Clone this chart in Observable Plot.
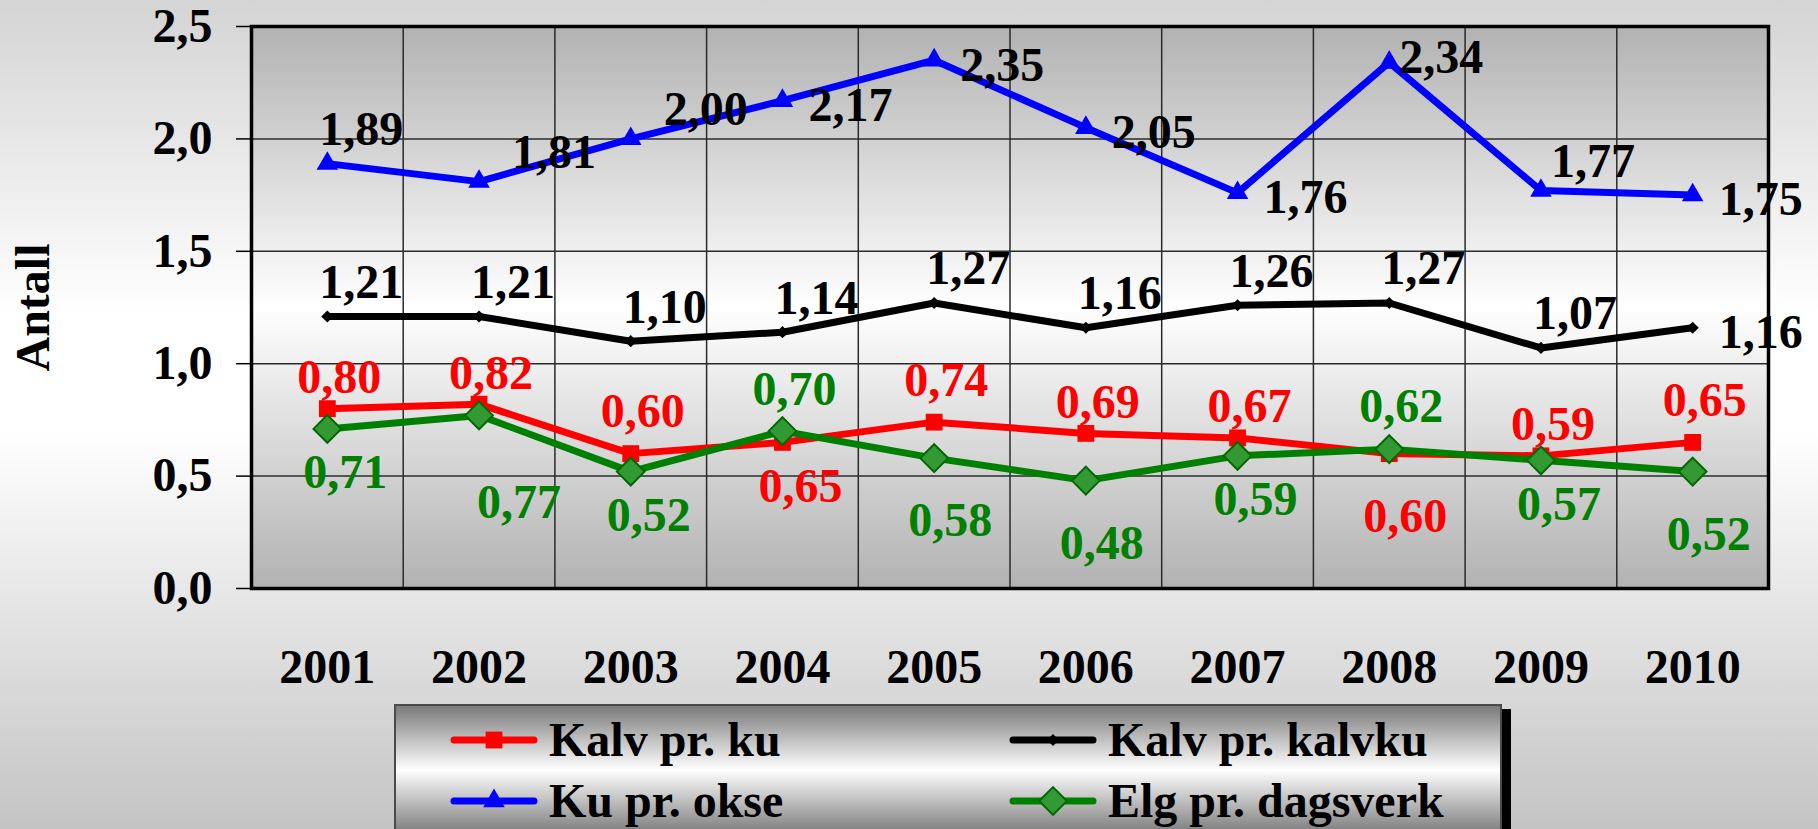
<!DOCTYPE html>
<html>
<head>
<meta charset="utf-8">
<script src="https://cdn.jsdelivr.net/npm/d3@7"></script>
<script src="https://cdn.jsdelivr.net/npm/@observablehq/plot@0.6"></script>
<style>
html, body { margin: 0; padding: 0; width: 1818px; height: 829px; overflow: hidden; }
body {
  position: relative;
  background: linear-gradient(to bottom, #d4d4d4 0%, #ffffff 38%, #ffffff 52%, #c4c4c4 100%);
  font-family: "Liberation Serif", "Times New Roman", serif;
  font-weight: bold;
}
#chart { position: absolute; left: 0; top: 0; }
#legend {
  position: absolute; left: 394px; top: 704px; width: 1108px; height: 132px;
  border: 2px solid #4a4a4a; box-sizing: border-box;
  background: linear-gradient(to bottom, #7a7a7a 0%, #ffffff 50%, #7a7a7a 100%);
  box-shadow: 9px 5px 0 #000;
}
.item { position: absolute; height: 60px; display: flex; align-items: center; }
.item svg { display: block; }
.item span { font-size: 48px; line-height: 60px; color: #000; margin-left: 10px; white-space: nowrap; }
</style>
</head>
<body>
<div id="chart"></div>
<div id="legend"></div>
<script>
// ---- data ----
const years = [2001, 2002, 2003, 2004, 2005, 2006, 2007, 2008, 2009, 2010];
const kalvPrKu      = [0.80, 0.82, 0.60, 0.65, 0.74, 0.69, 0.67, 0.60, 0.59, 0.65];
const kalvPrKalvku  = [1.21, 1.21, 1.10, 1.14, 1.27, 1.16, 1.26, 1.27, 1.07, 1.16];
const kuPrOkse      = [1.89, 1.81, 2.00, 2.17, 2.35, 2.05, 1.76, 2.34, 1.77, 1.75];
const elgPrDagsverk = [0.71, 0.77, 0.52, 0.70, 0.58, 0.48, 0.59, 0.62, 0.57, 0.52];
const seriesNames = ["Kalv pr. ku", "Kalv pr. kalvku", "Ku pr. okse", "Elg pr. dagsverk"];
const yTicks = [0, 0.5, 1.0, 1.5, 2.0, 2.5];
const yTitle = "Antall";

// label placement codes (per point)
const posKalvPrKu      = ["al", "al", "a", "b", "a", "al", "al", "bb", "al", "a"];
const posKalvPrKalvku  = ["ar", "ar", "ar", "ar", "ar", "ar", "ar", "ar", "ar", "r"];
const posKuPrOkse      = ["ar", "ru", "ru", "r", "r", "r", "r", "rn", "u", "r"];
const posElgPrDagsverk = ["b", "bbb", "b", "a", "bb", "bb", "b", "a", "b", "bb"];

// ---- styling ----
const placement = {
  a: [12, -42], al: [12, -31], ar: [34, -34], b: [18, 44], bb: [16, 63], bbb: [40, 87],
  r: [68, 5], rn: [52, -5], ru: [75, -29], u: [52, -29]
};
const seriesValues = [kalvPrKu, kalvPrKalvku, kuPrOkse, elgPrDagsverk];
const seriesPos = [posKalvPrKu, posKalvPrKalvku, posKuPrOkse, posElgPrDagsverk];
const seriesStyle = [
  {stroke: "#ff0000", symbol: "square",   r: 9.5,  fill: "#ff0000", mstroke: "none",    label: "#ff0000"},
  {stroke: "#000000", symbol: "diamond2", r: 5.5,  fill: "#000000", mstroke: "none",    label: "#000000"},
  {stroke: "#0000ff", symbol: "triangle", r: 8,    fill: "#0000ff", mstroke: "none",    label: "#000000"},
  {stroke: "#008000", symbol: "diamond2", r: 12.5, fill: "#339933", mstroke: "#006a00", label: "#008000"}
];
const fmt = (v, d) => v.toFixed(d).replace(".", ",");

const tables = seriesValues.map((vals, i) =>
  years.map((yr, j) => ({year: yr, value: vals[j], series: seriesNames[i], pos: seriesPos[i][j]})));

const marks = [
  Plot.frame({fill: "url(#plotBg)"}),
  Plot.ruleY(yTicks.slice(1, -1), {stroke: "#2a2a2a", strokeWidth: 1.5}),
  Plot.ruleX(years.slice(1), {x: d => d - 0.5, stroke: "#2a2a2a", strokeWidth: 1.5}),
  Plot.frame({stroke: "#000", strokeWidth: 3.5}),
  Plot.axisY({ticks: yTicks, tickSize: 15, tickPadding: 24, tickFormat: d => fmt(d, 1),
              label: null, fontSize: 48, fontWeight: "bold", strokeWidth: 1.5}),
  Plot.axisX({ticks: years, tickSize: 0, tickPadding: 60, tickFormat: d => String(d),
              label: null, fontSize: 48, fontWeight: "bold"}),
  Plot.text([yTitle], {frameAnchor: "left", textAnchor: "middle", rotate: -90, dx: -218,
                       fontSize: 48, fontWeight: "bold", fill: "#000"})
];
tables.forEach((t, i) => {
  const s = seriesStyle[i];
  marks.push(Plot.line(t, {x: "year", y: "value", stroke: s.stroke, strokeWidth: 7, strokeLinejoin: "miter"}));
  marks.push(Plot.dot(t, {x: "year", y: "value", symbol: s.symbol, r: s.r, fill: s.fill,
                          stroke: s.mstroke, strokeWidth: 2}));
});
tables.forEach((t, i) => {
  const s = seriesStyle[i];
  Object.keys(placement).forEach(code => {
    const sub = t.filter(d => d.pos === code);
    if (!sub.length) return;
    const [dx, dy] = placement[code];
    marks.push(Plot.text(sub, {x: "year", y: "value", text: d => fmt(d.value, 2), dx, dy,
                               fill: s.label, fontSize: 48, fontWeight: "bold", textAnchor: "middle"}));
  });
});

const svg = Plot.plot({
  width: 1818, height: 700,
  marginLeft: 251, marginRight: 50, marginTop: 26, marginBottom: 112,
  x: {type: "linear", domain: [2000.5, 2010.5]},
  y: {domain: [0, 2.5], label: null},
  style: {background: "transparent", fontFamily: "'Liberation Serif', 'Times New Roman', serif",
          fontWeight: "bold", fontSize: "48px", color: "#000", overflow: "visible"},
  marks
});
const ns = "http://www.w3.org/2000/svg";
const defs = document.createElementNS(ns, "defs");
defs.innerHTML = '<linearGradient id="plotBg" x1="0" y1="0" x2="0" y2="1">' +
  '<stop offset="0" stop-color="#b2b2b2"/><stop offset="0.5" stop-color="#ffffff"/>' +
  '<stop offset="1" stop-color="#b2b2b2"/></linearGradient>';
svg.insertBefore(defs, svg.firstChild);
document.getElementById("chart").appendChild(svg);

// ---- legend ----
const legend = document.getElementById("legend");
const legendOrder = [0, 1, 2, 3];
const legendSlots = [[53, 4], [612, 4], [53, 65], [612, 65]];
const symbolMap = {square: d3.symbolSquare, diamond2: d3.symbolDiamond2, triangle: d3.symbolTriangle};
legendOrder.forEach((si, k) => {
  const s = seriesStyle[si];
  const div = document.createElement("div");
  div.className = "item";
  div.style.left = legendSlots[k][0] + "px";
  div.style.top = legendSlots[k][1] + "px";
  const sw = d3.create("svg").attr("width", 90).attr("height", 60);
  sw.append("line").attr("x1", 5).attr("x2", 85).attr("y1", 30).attr("y2", 30)
    .attr("stroke", s.stroke).attr("stroke-width", 7).attr("stroke-linecap", "round");
  sw.append("path").attr("transform", "translate(45,30)")
    .attr("d", d3.symbol(symbolMap[s.symbol], Math.PI * s.r * s.r)())
    .attr("fill", s.fill).attr("stroke", s.mstroke).attr("stroke-width", 2);
  div.appendChild(sw.node());
  const sp = document.createElement("span");
  sp.textContent = seriesNames[si];
  div.appendChild(sp);
  legend.appendChild(div);
});
</script>
</body>
</html>
